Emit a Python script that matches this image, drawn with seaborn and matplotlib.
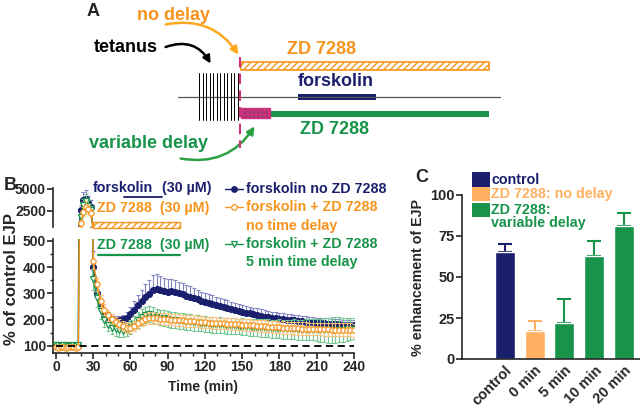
import matplotlib
matplotlib.use("Agg")
import matplotlib.pyplot as plt
from matplotlib.patches import Rectangle, FancyArrowPatch
from matplotlib.lines import Line2D
from matplotlib.transforms import blended_transform_factory
import numpy as np
import pandas as pd
import seaborn as sns

# ---- panel B data: time course (% of control EJP) ----
time_min = list(range(0, 30, 2)) + list(range(30, 241, 3))

navy_mean = [100, 102, 98, 101, 99, 100, 103, 98, 100, 101,
             2600, 3700, 3900, 3400, 3000,
             400, 300, 248, 222, 210, 204, 200, 198, 201, 208,
             222, 238, 255, 270, 285, 298, 312, 318, 314, 308,
             306, 308, 305, 300, 296, 292, 287, 283, 277, 272,
             268, 264, 261, 256, 252, 249, 245, 241, 237, 233,
             230, 227, 224, 221, 218, 215, 212, 210, 208, 206,
             204, 202, 200, 198, 197, 195, 194, 192, 191, 190,
             188, 187, 186, 185, 184, 183, 182, 181, 180, 179,
             178]
navy_err = [8, 6, 7, 5, 8, 6, 7, 6, 5, 7,
            600, 900, 1000, 800, 700,
            60, 40, 25, 20, 18, 16, 15, 15, 16, 20,
            25, 32, 38, 45, 50, 55, 58, 56, 52, 50,
            50, 48, 46, 45, 44, 42, 40, 38, 36, 35,
            34, 33, 32, 31, 30, 30, 29, 28, 28, 27,
            27, 26, 26, 25, 25, 24, 24, 24, 23, 23,
            23, 22, 22, 22, 22, 21, 21, 21, 21, 20,
            20, 20, 20, 20, 20, 19, 19, 19, 19, 19,
            19]

orange_mean = [95, 93, 96, 94, 92, 95, 94, 96, 93, 95,
               1100, 2400, 3000, 2700, 2300,
               425, 335, 272, 238, 216, 202, 192, 183, 175, 170,
               169, 176, 186, 195, 202, 206, 207, 205, 204, 203,
               202, 200, 199, 198, 197, 196, 195, 194, 193, 192,
               190, 189, 188, 187, 186, 186, 185, 184, 183, 182,
               181, 180, 179, 178, 177, 176, 175, 174, 173, 172,
               171, 170, 169, 168, 167, 167, 166, 166, 165, 165,
               164, 164, 163, 163, 162, 162, 162, 161, 161, 161,
               160]
orange_err = [6, 5, 6, 5, 6, 5, 6, 5, 6, 5,
              400, 500, 600, 500, 450,
              30, 25, 22, 20, 20, 20, 20, 20, 20, 20,
              20, 20, 20, 20, 22, 22, 22, 22, 22, 22,
              22, 22, 22, 22, 22, 22, 22, 22, 22, 22,
              22, 22, 22, 22, 22, 22, 22, 22, 22, 22,
              22, 22, 22, 22, 22, 22, 22, 22, 22, 22,
              22, 24, 24, 24, 24, 24, 24, 24, 24, 24,
              24, 24, 24, 25, 25, 25, 25, 25, 25, 25,
              25]

green_mean = [102, 105, 100, 103, 104, 101, 99, 102, 100, 103,
              1800, 3200, 3600, 3100, 2600,
              355, 282, 232, 200, 181, 170, 163, 160, 158, 162,
              172, 185, 198, 210, 218, 222, 218, 212, 208, 205,
              203, 200, 198, 196, 194, 192, 190, 188, 186, 185,
              184, 182, 181, 180, 179, 178, 177, 176, 175, 174,
              173, 172, 171, 170, 169, 168, 167, 167, 166, 165,
              165, 164, 164, 163, 163, 162, 162, 162, 161, 161,
              160, 160, 160, 160, 161, 161, 162, 162, 163, 164,
              165]
green_err = [8, 7, 8, 7, 8, 7, 8, 7, 8, 7,
             500, 700, 800, 600, 500,
             40, 35, 30, 28, 26, 25, 25, 25, 25, 25,
             26, 28, 30, 30, 30, 30, 30, 30, 30, 30,
             30, 30, 30, 30, 30, 30, 30, 30, 30, 30,
             30, 30, 30, 30, 30, 30, 30, 30, 30, 30,
             32, 32, 32, 32, 32, 34, 34, 34, 34, 34,
             36, 36, 36, 36, 38, 38, 38, 40, 40, 40,
             42, 44, 46, 48, 50, 50, 48, 46, 44, 42,
             40]

# drug application periods (min)
forskolin_on = [55, 85]
zd_nodelay_on = [30, 100]
zd_delay_on = [34, 100]

# ---- panel C data ----
conditions = ["control", "0 min", "5 min", "10 min", "20 min"]
enhancement = [65.5, 17.3, 22.2, 63.0, 80.8]
enhancement_err = [4.5, 6.0, 14.5, 9.0, 8.5]

NAVY = "#1a1f6e"
ORANGE = "#f7941d"
ORANGE_BAR = "#ffb060"
GREEN = "#18944a"
MAGENTA = "#d1307f"

sns.set_theme(style="ticks")
plt.rcParams["font.family"] = ["Liberation Sans", "DejaVu Sans"]
plt.rcParams["font.weight"] = "bold"
plt.rcParams["axes.labelweight"] = "bold"
plt.rcParams["axes.linewidth"] = 1.2
plt.rcParams["xtick.major.width"] = 1.2
plt.rcParams["ytick.major.width"] = 1.2
plt.rcParams["xtick.minor.width"] = 1.0
plt.rcParams["ytick.minor.width"] = 1.0

W, H = 640, 408
fig = plt.figure(figsize=(W / 100, H / 100), dpi=100)


def px_axes(left, top, right, bottom):
    return fig.add_axes([left / W, 1 - bottom / H, (right - left) / W, (bottom - top) / H])


def near_range(values, lo, hi):
    # keep points inside [lo, hi] plus their neighbours so connecting lines cross the break
    v = np.asarray(values, dtype=float)
    inside = (v >= lo) & (v <= hi)
    keep = inside.copy()
    keep[1:] |= inside[:-1]
    keep[:-1] |= inside[1:]
    return keep


# ---------------- panel B ----------------
ax_top = px_axes(53, 188, 354, 227)
ax_lo = px_axes(53, 239.4, 354, 353)
TOP_LIM = (680, 5110)
LO_LIM = (73, 506)

series = [
    (navy_mean, navy_err, NAVY, "#8285c4", "o", NAVY, 4.2, "upper"),
    (green_mean, green_err, GREEN, "#72c690", "v", "white", 3.8, "both"),
    (orange_mean, orange_err, ORANGE, "#fbc47e", "o", "white", 3.8, "both"),
]
t_arr = np.array(time_min, dtype=float)
for ax, lim in ((ax_top, TOP_LIM), (ax_lo, LO_LIM)):
    z = 2
    for mean, err, col, ecol, mk, mfc, ms, side in series:
        mean = np.array(mean, dtype=float)
        err = np.array(err, dtype=float)
        keep = near_range(mean, *lim)
        yerr = [np.zeros_like(err), err] if side == "upper" else [err, err]
        ax.errorbar(t_arr[keep], mean[keep], yerr=[yerr[0][keep], yerr[1][keep]],
                    fmt="none", ecolor=ecol, elinewidth=0.8, capsize=1.6,
                    capthick=0.8, zorder=z)
        y_plot = np.where(keep, mean, np.nan)
        sns.lineplot(x=t_arr, y=y_plot, ax=ax, color=col, lw=1.0,
                     marker=mk, markersize=ms, markerfacecolor=mfc,
                     markeredgecolor=col, markeredgewidth=0.9, zorder=z + 1)
        z += 2
    ax.set_xlim(-2.4, 240)
    ax.set_ylim(*lim)
    ax.set_xlabel("")
    ax.set_ylabel("")
    ax.tick_params(labelsize=10, length=4, width=1.2, pad=1)
    sns.despine(ax=ax)

ax_top.set_yticks([2500, 5000])
ax_top.spines["bottom"].set_visible(False)
ax_top.set_xticks([])

ax_lo.set_yticks([100, 200, 300, 400, 500])
ax_lo.set_yticks([150, 250, 350, 450], minor=True)
ax_lo.set_xticks(range(0, 241, 30))
ax_lo.set_xticks(range(0, 241, 10), minor=True)
ax_lo.tick_params(which="minor", length=2.5)
ax_lo.hlines(100, 0, 240, colors="black", linestyles=(0, (4, 2.5)), lw=1.3, zorder=10)
ax_lo.set_xlabel("Time (min)", fontsize=10, labelpad=4)

# ---------------- panel C ----------------
ax_c = px_axes(462, 195, 640, 359)
df_c = pd.DataFrame({"cond": conditions, "val": enhancement})
bar_colors = [NAVY, ORANGE_BAR, GREEN, GREEN, GREEN]
sns.barplot(data=df_c, x="cond", y="val", hue="cond", palette=bar_colors,
            width=0.667, legend=False, saturation=1, ax=ax_c, zorder=2)
for i, (v, e, c) in enumerate(zip(enhancement, enhancement_err, bar_colors)):
    ax_c.errorbar(i, v, yerr=[[0], [e]], fmt="none", ecolor=c,
                  elinewidth=1.5, capsize=5, capthick=1.5, zorder=1)
ax_c.set_xlim(-1.42, 4.52)
ax_c.set_ylim(0, 100)
ax_c.set_yticks([0, 25, 50, 75, 100])
ax_c.set_xlabel("")
ax_c.set_ylabel("")
ax_c.tick_params(labelsize=10.5, length=4, width=1.2, pad=1)
ax_c.tick_params(axis="x", length=0, pad=3)
plt.setp(ax_c.get_xticklabels(), rotation=45, ha="right", va="top", rotation_mode="anchor")
sns.despine(ax=ax_c)

# ---------------- overlay (panel A, labels, legends) ----------------
ov = fig.add_axes([0, 0, 1, 1], zorder=5)
ov.set_xlim(0, W)
ov.set_ylim(H, 0)
ov.axis("off")
ov.patch.set_alpha(0)

big = 13
ov.text(93, 11, "A", fontsize=13, ha="center", va="center")
ov.text(137, 15, "no delay", color=ORANGE, fontsize=big, va="center")
ov.text(94, 48, "tetanus", color="black", fontsize=big, va="center")
ov.text(287, 50, "ZD 7288", color=ORANGE, fontsize=big, va="center")
ov.text(298, 82, "forskolin", color=NAVY, fontsize=big, va="center")
ov.text(300, 129, "ZD 7288", color=GREEN, fontsize=big, va="center")
ov.text(89, 143, "variable delay", color=GREEN, fontsize=big, va="center")

ov.add_patch(Rectangle((241, 62), 248, 8, facecolor="white", edgecolor=ORANGE,
                       hatch="/////", lw=1.2))
ov.add_patch(Rectangle((298, 94), 78, 6, facecolor=NAVY, edgecolor="none"))
ov.plot([178, 500], [97, 97], color="#555555", lw=0.9)
for x in np.linspace(199, 238, 12):
    ov.plot([x, x], [73, 120], color="black", lw=0.7)
ov.add_patch(Rectangle((270, 111), 219, 6, facecolor=GREEN, edgecolor="none"))
ov.add_patch(Rectangle((241, 108), 29, 10, facecolor="#9b3a6c", edgecolor=MAGENTA,
                       hatch="++++", lw=1.0))
ov.plot([240, 240], [57, 148], color=MAGENTA, lw=1.5, ls=(0, (5, 3)))

ov.add_patch(FancyArrowPatch((163, 25), (240, 57), connectionstyle="arc3,rad=-0.35",
                             arrowstyle="-|>", mutation_scale=11, lw=1.8, color="#ffa81e"))
ov.add_patch(FancyArrowPatch((163, 48), (212, 66), connectionstyle="arc3,rad=-0.45",
                             arrowstyle="-|>", mutation_scale=11, lw=1.8, color="black"))
ov.add_patch(FancyArrowPatch((178, 158), (256, 124), connectionstyle="arc3,rad=0.35",
                             arrowstyle="-|>", mutation_scale=11, lw=1.8, color="#2aa040"))

# panel B labels
ov.text(10, 186, "B", fontsize=13, ha="center", va="center")
ov.text(12, 279, "% of control EJP", fontsize=12, rotation=90, ha="center", va="center")
lab = 10.3
ov.text(93, 188, "forskolin", color=NAVY, fontsize=lab, va="center")
ov.text(162, 188, "(30 \u00b5M)", color=NAVY, fontsize=lab, va="center")
ov.text(97, 208, "ZD 7288  (30 \u00b5M)", color=ORANGE, fontsize=lab, va="center")
ov.text(97, 245, "ZD 7288  (30 \u00b5M)", color=GREEN, fontsize=lab, va="center")

tb = blended_transform_factory(ax_lo.transData, ov.transData)
ov.plot(forskolin_on, [197, 197], color=NAVY, lw=1.3, transform=tb)
ov.add_patch(Rectangle((zd_nodelay_on[0], 222), zd_nodelay_on[1] - zd_nodelay_on[0], 6,
                       transform=tb, facecolor="white", edgecolor=ORANGE, hatch="/////", lw=1.0))
ov.plot(zd_delay_on, [255, 255], color=GREEN, lw=1.6, transform=tb)

# panel B legend
leg_items = [(189, NAVY, "o", NAVY, "forskolin no ZD 7288"),
             (207, ORANGE, "o", "white", "forskolin + ZD 7288"),
             (244, GREEN, "v", "white", "forskolin + ZD 7288")]
for y, c, mk, mfc, txt in leg_items:
    ov.add_line(Line2D([225, 243], [y, y], color=c, lw=1.0))
    ov.add_line(Line2D([234], [y], marker=mk, markersize=4, markerfacecolor=mfc,
                       markeredgecolor=c, markeredgewidth=0.9))
    ov.text(246, y, txt, color=c, fontsize=lab, va="center")
ov.text(246, 226, "no time delay", color=ORANGE, fontsize=lab, va="center")
ov.text(246, 262, "5 min time delay", color=GREEN, fontsize=lab, va="center")

# panel C labels and legend
ov.text(422, 178, "C", fontsize=13, ha="center", va="center")
ov.text(418, 277, "% enhancement of EJP", fontsize=10.3, rotation=90, ha="center", va="center")
ov.add_patch(Rectangle((472, 172), 18, 15, facecolor=NAVY, edgecolor="none"))
ov.add_patch(Rectangle((472, 187), 18, 14, facecolor=ORANGE_BAR, edgecolor="none"))
ov.add_patch(Rectangle((472, 203), 18, 14, facecolor=GREEN, edgecolor="none"))
ov.text(491, 180, "control", color=NAVY, fontsize=lab, va="center")
ov.text(491, 194, "ZD 7288: no delay", color=ORANGE_BAR, fontsize=lab, va="center")
ov.text(491, 210, "ZD 7288:", color=GREEN, fontsize=lab, va="center")
ov.text(491, 223, "variable delay", color=GREEN, fontsize=lab, va="center")

fig.savefig("out.png", dpi=100, facecolor="white")
